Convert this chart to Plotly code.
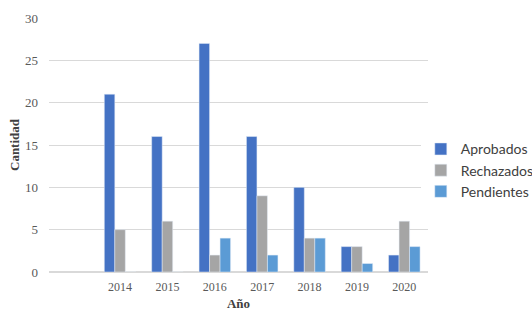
import plotly.graph_objects as go

years = [2014, 2015, 2016, 2017, 2018, 2019, 2020]
aprobados = [21, 16, 27, 16, 10, 3, 2]
rechazados = [5, 6, 2, 9, 4, 3, 6]
pendientes = [0, 0, 4, 2, 4, 1, 3]
tick_labels = [str(y) for y in years]

serif = "Liberation Serif"
fig = go.Figure()
fig.add_bar(x=years, y=aprobados, name="Aprobados", marker_color="#4472C4")
fig.add_bar(x=years, y=rechazados, name="Rechazados", marker_color="#A5A5A5")
fig.add_bar(x=years, y=pendientes, name="Pendientes", marker_color="#5B9BD5")

fig.update_layout(
    width=532, height=312,
    margin=dict(l=49, r=104, t=18, b=40, autoexpand=False),
    paper_bgcolor="white", plot_bgcolor="white",
    barmode="group", bargap=0.335, bargroupgap=0,
    showlegend=True,
    legend=dict(xref="container", yref="container", x=0.791, y=0.454,
                xanchor="left", yanchor="middle",
                font=dict(family="Lato", size=14, color="#404040"),
                tracegroupgap=0, itemwidth=30),
    xaxis=dict(range=[2012.5, 2020.5], tickvals=years, ticktext=tick_labels,
               automargin=False, ticklabelstandoff=6,
               showgrid=False, zeroline=False, showline=False, ticks="",
               tickfont=dict(family=serif, size=12, color="#595959"),
               title=dict(text="<b>Año</b>", font=dict(family=serif, size=13, color="#404040"), standoff=5)),
    yaxis=dict(range=[0, 30], dtick=5, showgrid=True, gridcolor="#D9D9D9", gridwidth=1,
               automargin=False,
               zeroline=True, zerolinecolor="#D9D9D9", showline=False, ticks="",
               ticklabelstandoff=10,
               tickfont=dict(family=serif, size=13, color="#595959"),
               title=dict(text="<b>Cantidad</b>", font=dict(family=serif, size=13, color="#404040"), standoff=2)),
)
fig.write_html("out.html", config={"displayModeBar": False},
               post_script="document.body.style.margin='0';")
